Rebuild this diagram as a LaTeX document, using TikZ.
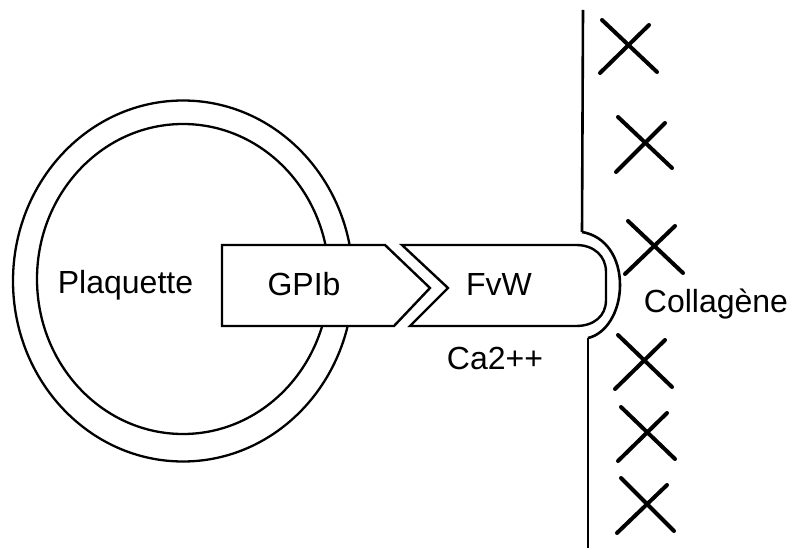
\documentclass[tikz,border=0pt]{standalone}
\usepackage{fontspec}
\setmainfont{Liberation Sans}
\begin{document}
\begin{tikzpicture}[x=1pt,y=-1pt,
  lbl/.style={inner sep=0pt, anchor=base, font=\fontsize{32}{38}\selectfont},
  shapeline/.style={line width=2.4pt, line join=miter},
  cellline/.style={line width=2.3pt},
  wallline/.style={line width=2.6pt},
  crossline/.style={line width=4pt, line cap=round}]
\useasboundingbox (0,0) rectangle (789,553);
\fill[white] (0,0) rectangle (789,553);
% platelet membrane
\draw[cellline] (183,281) ellipse [x radius=170pt, y radius=180.5pt];
\draw[cellline] (183,279) ellipse [x radius=146pt, y radius=155pt];
% GPIb
\draw[shapeline, fill=white] (222,245) -- (385,245) -- (430,288) -- (394,326) -- (222,326) -- cycle;
% FvW
\draw[shapeline, fill=white] (402,245) -- (448,288) -- (410,326) -- (576,326)
  .. controls (594,326) and (606,316) .. (606,300) -- (606,272)
  .. controls (606,256) and (594,245) .. (576,245) -- cycle;
% vessel wall
\coordinate (wtop) at (583,10);
\coordinate (wup) at (582,232);
\coordinate (wlow) at (588,338);
\coordinate (wbot) at (588,548);
\draw[wallline] (wtop) -- (wup);
\draw[wallline] (wlow) -- (wbot);
\draw[wallline] (wup) .. controls (606,236) and (620,258) .. (620,285)
  .. controls (620,312) and (606,334) .. (wlow);
% collagen crosses
\foreach \a/\b/\c/\d/\e/\f/\g/\h in {
  602/20/657/72/649/25/600/73,
  618/117/672/168/665/123/616/172,
  628/221/683/273/675/226/625/274,
  618/335/672/387/665/340/615/389,
  621/407/675/459/667/413/618/461,
  621/478/674/531/667/485/617/533}{
  \draw[crossline] (\a,\b) -- (\c,\d);
  \draw[crossline] (\e,\f) -- (\g,\h);
}
% labels
\node[lbl] (plaq) at (125.5,293) {Plaquette};
\node[lbl] (gp) at (304,295) {GPIb};
\node[lbl] (fvw) at (499,295) {FvW};
\node[lbl] (ca) at (495,369) {Ca2++};
\node[lbl] (coll) at (716,312) {Collagène};
\end{tikzpicture}
\end{document}
